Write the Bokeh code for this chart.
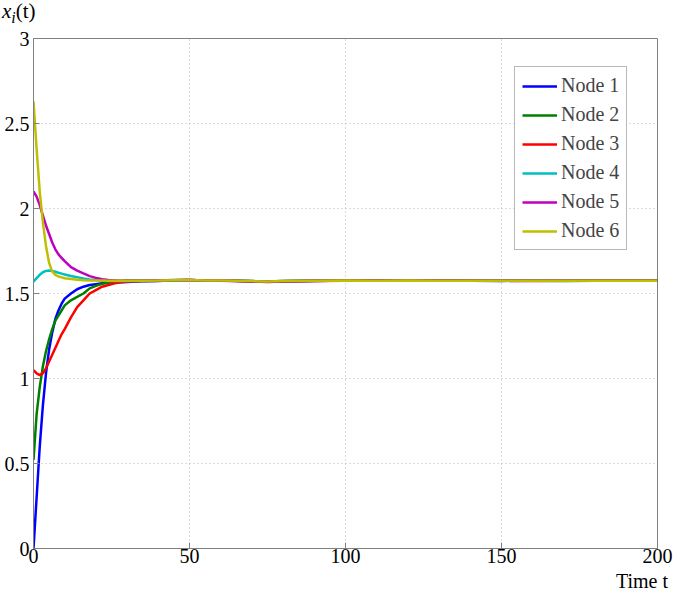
from bokeh.plotting import figure
from bokeh.models import Range1d, FixedTicker, Legend, LegendItem, Div
from bokeh.layouts import column
from bokeh.embed import file_html
from bokeh.resources import INLINE

t = [0, 1, 2, 3, 4, 5, 6, 7, 8, 9, 10, 12, 14, 16, 18, 20, 22, 24, 26, 28, 30,
     35, 40, 45, 50, 55, 60, 65, 70, 75, 80, 90, 100, 110, 120, 130, 140, 150,
     160, 170, 180, 190, 200]

node1 = [0.00, 0.30, 0.60, 0.84, 1.03, 1.17, 1.27, 1.35, 1.40, 1.44, 1.47,
         1.50, 1.525, 1.54, 1.55, 1.555, 1.56, 1.565, 1.567, 1.566, 1.568,
         1.572, 1.574, 1.578, 1.580, 1.577, 1.575, 1.574, 1.572, 1.570, 1.572,
         1.574, 1.576, 1.575, 1.576, 1.575, 1.575, 1.574, 1.575, 1.575, 1.575, 1.575, 1.575]
node2 = [0.52, 0.79, 0.95, 1.07, 1.16, 1.23, 1.29, 1.34, 1.37, 1.40, 1.43,
         1.46, 1.48, 1.50, 1.53, 1.545, 1.557, 1.565, 1.570, 1.572, 1.573,
         1.575, 1.576, 1.579, 1.578, 1.576, 1.575, 1.575, 1.573, 1.571, 1.573,
         1.575, 1.575, 1.576, 1.575, 1.575, 1.576, 1.575, 1.575, 1.574, 1.575, 1.575, 1.575]
node3 = [1.05, 1.03, 1.02, 1.03, 1.06, 1.10, 1.14, 1.18, 1.22, 1.26, 1.29,
         1.36, 1.42, 1.46, 1.50, 1.52, 1.54, 1.55, 1.56, 1.566, 1.570,
         1.573, 1.575, 1.578, 1.579, 1.577, 1.576, 1.574, 1.571, 1.568, 1.571,
         1.574, 1.575, 1.576, 1.576, 1.575, 1.575, 1.575, 1.574, 1.575, 1.575, 1.575, 1.575]
node4 = [1.57, 1.59, 1.61, 1.625, 1.633, 1.635, 1.632, 1.628, 1.622, 1.617, 1.612,
         1.603, 1.596, 1.589, 1.583, 1.579, 1.576, 1.574, 1.573, 1.574, 1.575,
         1.574, 1.575, 1.577, 1.578, 1.576, 1.575, 1.575, 1.573, 1.571, 1.573,
         1.575, 1.575, 1.575, 1.576, 1.575, 1.575, 1.575, 1.575, 1.575, 1.575, 1.575, 1.575]
node5 = [2.10, 2.07, 2.02, 1.96, 1.90, 1.85, 1.80, 1.76, 1.73, 1.71, 1.69,
         1.655, 1.635, 1.618, 1.602, 1.592, 1.584, 1.579, 1.577, 1.576, 1.576,
         1.575, 1.576, 1.578, 1.579, 1.577, 1.575, 1.575, 1.572, 1.570, 1.572,
         1.575, 1.575, 1.576, 1.575, 1.576, 1.575, 1.575, 1.575, 1.575, 1.575, 1.575, 1.575]
node6 = [2.63, 2.35, 2.10, 1.92, 1.78, 1.68, 1.63, 1.61, 1.60, 1.595, 1.59,
         1.585, 1.581, 1.578, 1.577, 1.576, 1.576, 1.575, 1.575, 1.576, 1.575,
         1.575, 1.576, 1.578, 1.579, 1.577, 1.576, 1.575, 1.573, 1.571, 1.573,
         1.575, 1.576, 1.575, 1.576, 1.575, 1.575, 1.575, 1.575, 1.575, 1.575, 1.575, 1.575]

series = [node1, node2, node3, node4, node5, node6]
names = ["Node 1", "Node 2", "Node 3", "Node 4", "Node 5", "Node 6"]
colors = ["#0000ff", "#008000", "#ff0000", "#00bfbf", "#bf00bf", "#bfbf00"]

x_ticks = [0, 50, 100, 150, 200]
y_ticks = [0, 0.5, 1, 1.5, 2, 2.5, 3]
y_tick_labels = ["0", "0.5", "1", "1.5", "2", "2.5", "3"]

FONT = "Liberation Serif"
GRAY = "#808080"

p = figure(width=675, height=544, output_backend="svg", toolbar_location=None,
           x_range=Range1d(0, 200), y_range=Range1d(0, 3),
           min_border_left=33, min_border_right=18, min_border_top=12,
           min_border_bottom=22, margin=(0, 0, 0, 0))

p.outline_line_color = GRAY
p.outline_line_width = 1
p.background_fill_color = "white"

for ax in (p.xaxis[0], p.yaxis[0]):
    ax.axis_line_color = GRAY
    ax.major_tick_line_color = GRAY
    ax.major_tick_in = 6
    ax.major_tick_out = 0
    ax.minor_tick_line_color = None
    ax.major_label_text_font = FONT
    ax.major_label_text_font_size = "20px"
    ax.major_label_text_color = "black"

p.xaxis[0].ticker = FixedTicker(ticks=x_ticks)
p.yaxis[0].ticker = FixedTicker(ticks=y_ticks)
p.yaxis[0].major_label_overrides = {v: s for v, s in zip(y_ticks, y_tick_labels)}
p.xaxis[0].major_label_standoff = 0
p.yaxis[0].major_label_standoff = 4

p.xgrid.ticker = FixedTicker(ticks=x_ticks)
p.ygrid.ticker = FixedTicker(ticks=y_ticks)
for g in (p.xgrid[0], p.ygrid[0]):
    g.grid_line_color = "#b4b4b4"
    g.grid_line_dash = "1 3"
    g.grid_line_width = 1

items = []
for ys, name, c in zip(series, names, colors):
    r = p.line(t, ys, line_color=c, line_width=2.5)
    items.append(LegendItem(label=name, renderers=[r]))

legend = Legend(items=items, location=(481, 298),
                label_text_font=FONT, label_text_font_size="20px",
                label_height=20, glyph_height=20, glyph_width=35,
                spacing=6, padding=7, label_standoff=4, margin=0,
                border_line_color="#707070", border_line_width=1,
                background_fill_color="white", background_fill_alpha=1)
p.add_layout(legend)

top_div = Div(
    text='<div style="font-family:\'Liberation Serif\';font-size:21px;line-height:22px;'
         'color:black;padding-top:0px;padding-left:2px">'
         '<i>x</i><i style="font-size:16px;position:relative;top:5px">i</i>(t)</div>',
    width=675, height=26, margin=(0, 0, 0, 0))

bottom_div = Div(
    text='<div style="font-family:\'Liberation Serif\';font-size:20px;line-height:23px;'
         'color:black;text-align:right;width:668px">Time t</div>',
    width=675, height=23, margin=(0, 0, 0, 0))

layout = column(top_div, p, bottom_div, spacing=0)

open("out.html", "w").write(file_html(layout, INLINE))
